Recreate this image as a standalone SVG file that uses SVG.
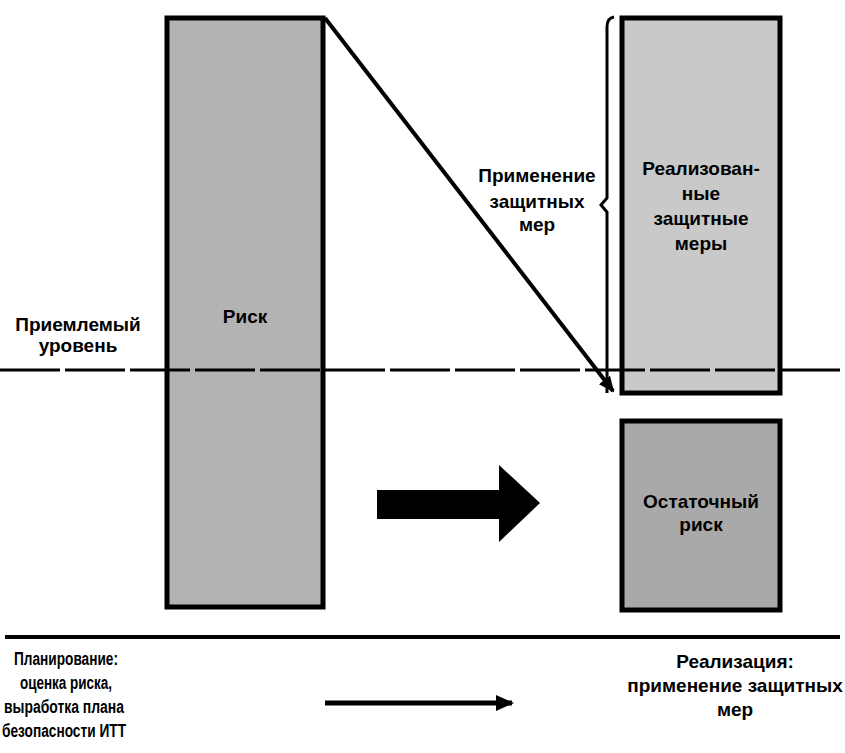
<svg xmlns="http://www.w3.org/2000/svg" width="845" height="753" viewBox="0 0 845 753">
<style>
text{font-family:"Liberation Sans",Arial,sans-serif;font-weight:bold;fill:#000;text-anchor:middle}
.t{font-size:19px}
.s{font-size:18px}
.box{stroke:#000;stroke-width:5}
.ln{stroke:#000;fill:none}
</style>
<defs>
<marker id="ah" markerWidth="16" markerHeight="14" refX="14" refY="7" orient="auto" markerUnits="userSpaceOnUse" viewBox="0 0 16 14">
<path d="M0,0 L16,7 L0,14 Z" fill="#000"/>
</marker>
<marker id="ah2" markerWidth="18" markerHeight="16" refX="16" refY="8" orient="auto" markerUnits="userSpaceOnUse" viewBox="0 0 18 16">
<path d="M0,0 L18,8 L0,16 Z" fill="#000"/>
</marker>
</defs>
<rect width="845" height="753" fill="#fff"/>

<g id="risk">
<rect class="box" x="167" y="18" width="156" height="589" fill="#b3b3b3"/>
<text class="t" x="245" y="323">Риск</text>
</g>

<g id="implemented">
<rect class="box" x="622" y="18" width="158" height="375" fill="#c9c9c9"/>
<text class="t" x="701" y="175">Реализован-</text>
<text class="t" x="701" y="200">ные</text>
<text class="t" x="701" y="225">защитные</text>
<text class="t" x="701" y="250">меры</text>
</g>

<g id="residual">
<rect class="box" x="622" y="421" width="158" height="189" fill="#a9a9a9"/>
<text class="t" x="701" y="508">Остаточный</text>
<text class="t" x="701" y="531">риск</text>
</g>

<g id="acceptable">
<text class="t" x="78" y="331">Приемлемый</text>
<text class="t" x="78" y="352">уровень</text>
</g>

<g id="apply-label">
<text class="t" x="537" y="182">Применение</text>
<text class="t" x="537" y="208">защитных</text>
<text class="t" x="537" y="231">мер</text>
</g>

<g id="planning">
<text class="s" x="66" y="665" textLength="104" lengthAdjust="spacingAndGlyphs">Планирование:</text>
<text class="s" x="66" y="689" textLength="92" lengthAdjust="spacingAndGlyphs">оценка риска,</text>
<text class="s" x="64" y="713" textLength="120" lengthAdjust="spacingAndGlyphs">выработка плана</text>
<text class="s" x="64" y="737" textLength="124" lengthAdjust="spacingAndGlyphs">безопасности ИТТ</text>
</g>

<g id="realization">
<text class="t" x="735" y="668">Реализация:</text>
<text class="t" x="735" y="692">применение защитных</text>
<text class="t" x="735" y="716">мер</text>
</g>

<g id="connectors">
<line class="ln" x1="0" y1="370" x2="845" y2="370" stroke-width="3" stroke-dasharray="60 5"/>
<line class="ln" x1="325" y1="18" x2="613" y2="391" stroke-width="4" marker-end="url(#ah)"/>
<path class="ln" d="M614,17 Q607,18 607,27 L607,198 L601,205 L607,212 L607,393" stroke-width="3"/>
<path d="M377,490 L499,490 L499,465 L540,503 L499,542 L499,519 L377,519 Z" fill="#000"/>
<line class="ln" x1="5" y1="637" x2="840" y2="637" stroke-width="4"/>
<line class="ln" x1="325" y1="703" x2="512" y2="703" stroke-width="5" marker-end="url(#ah2)"/>
</g>
</svg>
